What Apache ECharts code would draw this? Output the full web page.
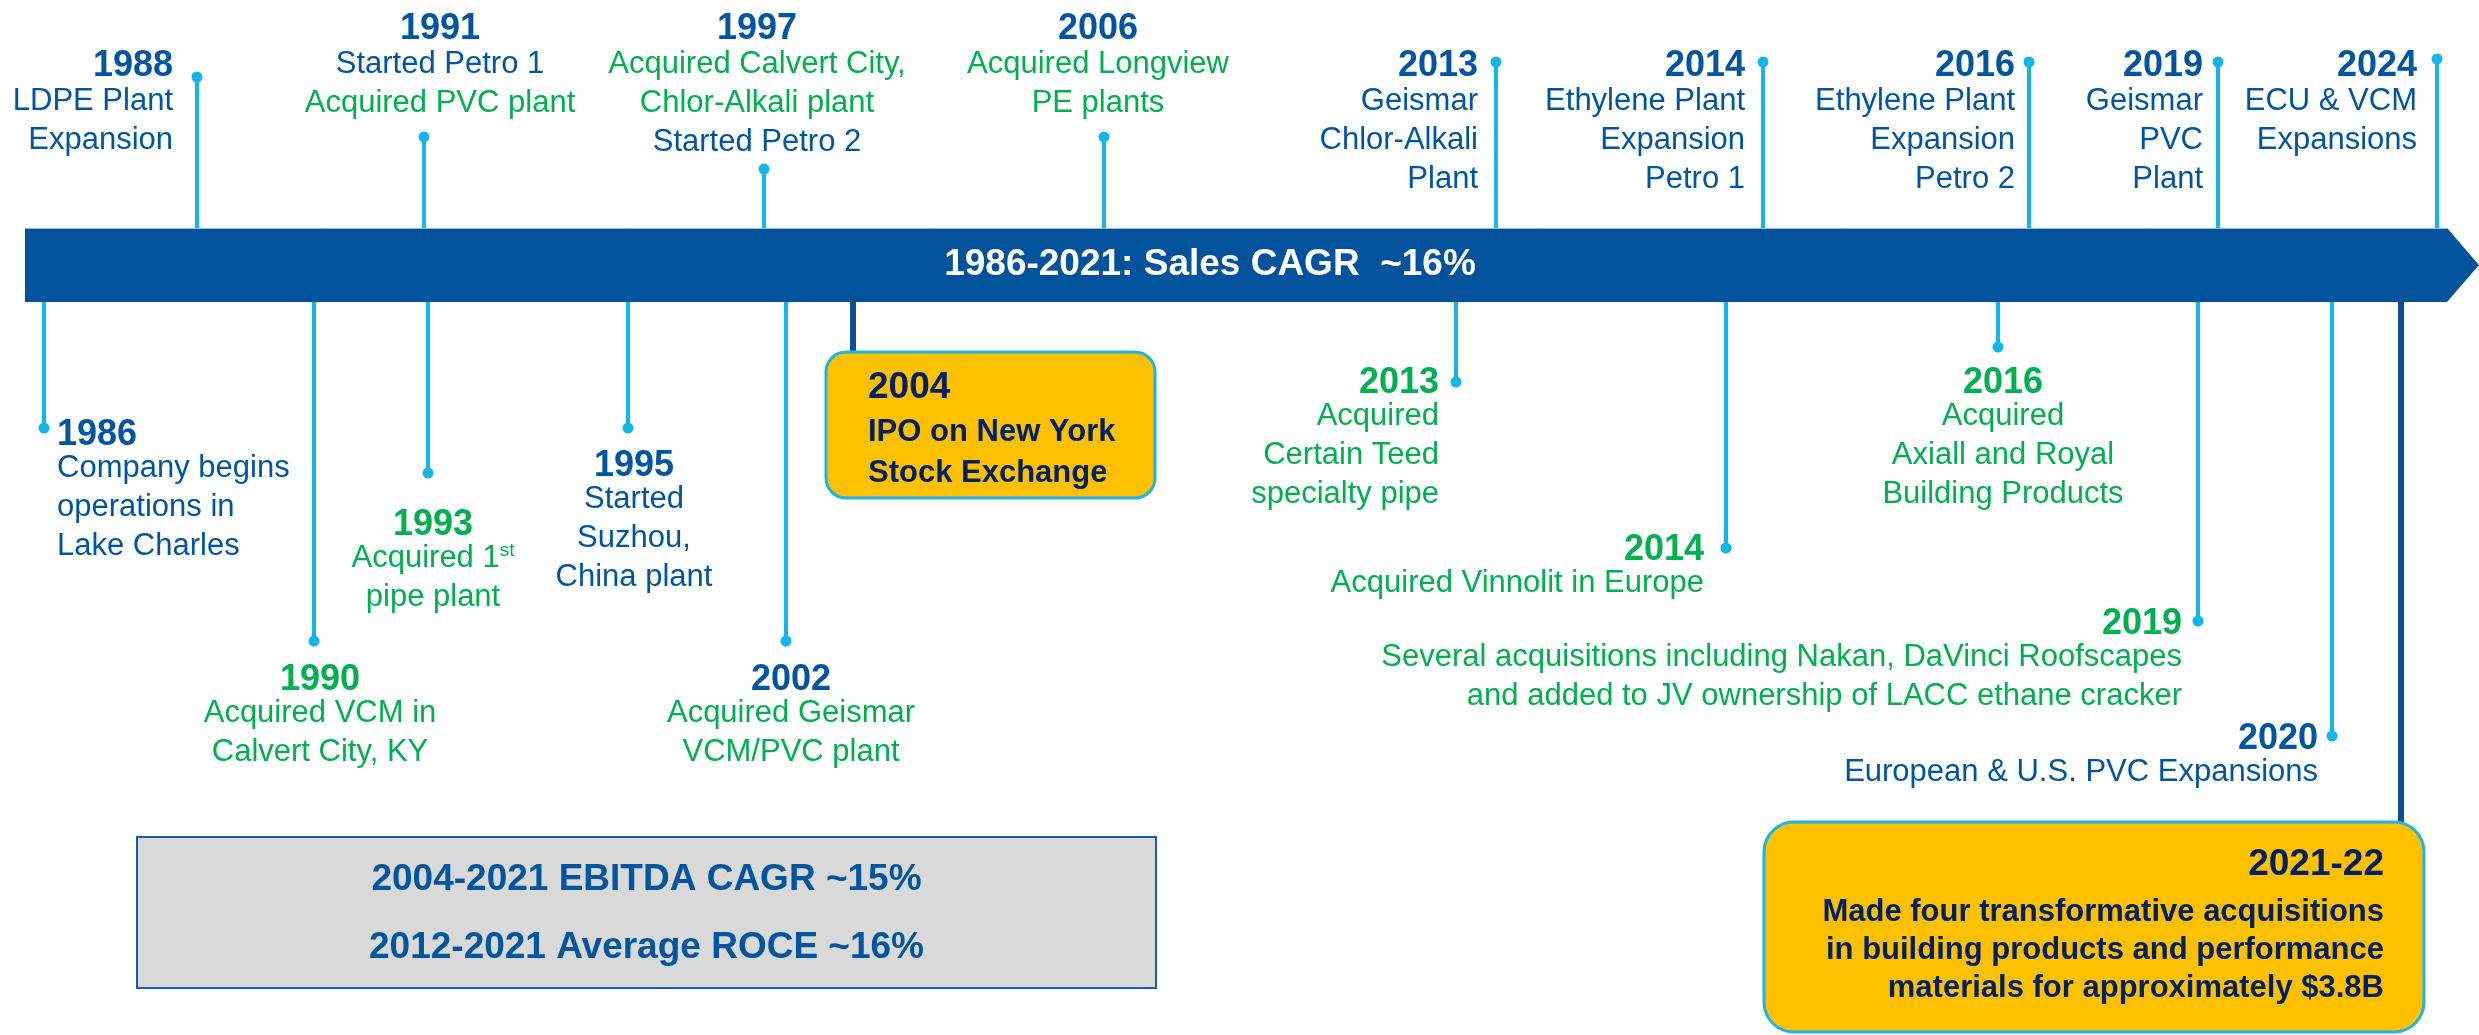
<!DOCTYPE html>
<html>
<head>
<meta charset="utf-8">
<title>Timeline</title>
<script src="https://cdn.jsdelivr.net/npm/echarts@6/dist/echarts.min.js"></script>
<style>
    html, body { margin: 0; padding: 0; background: #fff; }
    #chart { width: 2479px; height: 1035px; }
</style>
</head>
<body>
<div id="chart"></div>
<script>
// ---------- data ----------
const bannerText = '1986-2021: Sales CAGR  ~16%';

// events above the bar
const topYears = ['1988', '1991', '1997', '2006', '2013', '2014', '2016', '2019', '2024'];
const topLines = [
    ['LDPE Plant', 'Expansion'],
    ['Started Petro 1', 'Acquired PVC plant'],
    ['Acquired Calvert City,', 'Chlor-Alkali plant', 'Started Petro 2'],
    ['Acquired Longview', 'PE plants'],
    ['Geismar', 'Chlor-Alkali', 'Plant'],
    ['Ethylene Plant', 'Expansion', 'Petro 1'],
    ['Ethylene Plant', 'Expansion', 'Petro 2'],
    ['Geismar', 'PVC', 'Plant'],
    ['ECU & VCM', 'Expansions']
];
// o = organic growth (blue), a = acquisition (green); first letter is the year
const topKinds = ['ooo', 'ooa', 'oaao', 'oaa', 'oooo', 'oooo', 'oooo', 'oooo', 'ooo'];

// events below the bar
const bottomYears = ['1986', '1990', '1993', '1995', '2002', '2013', '2014', '2016', '2019', '2020'];
const bottomLines = [
    ['Company begins', 'operations in', 'Lake Charles'],
    ['Acquired VCM in', 'Calvert City, KY'],
    ['Acquired 1^st', 'pipe plant'],
    ['Started', 'Suzhou,', 'China plant'],
    ['Acquired Geismar', 'VCM/PVC plant'],
    ['Acquired', 'Certain Teed', 'specialty pipe'],
    ['Acquired Vinnolit in Europe'],
    ['Acquired', 'Axiall and Royal', 'Building Products'],
    ['Several acquisitions including Nakan, DaVinci Roofscapes', 'and added to JV ownership of LACC ethane cracker'],
    ['European & U.S. PVC Expansions']
];
const bottomKinds = ['oooo', 'aaa', 'aaa', 'oooo', 'oaa', 'aaaa', 'aa', 'aaaa', 'aaa', 'oo'];

// highlighted milestones
const boxYears = ['2004', '2021-22'];
const boxLines = [
    ['IPO on New York', 'Stock Exchange'],
    ['Made four transformative acquisitions', 'in building products and performance', 'materials for approximately $3.8B']
];

const statLines = ['2004-2021 EBITDA CAGR ~15%', '2012-2021 Average ROCE ~16%'];

// ---------- layout (axis units = px) ----------
const W = 2479, H = 1035;
const barTop = 228, barBottom = 302, barLeft = 25, barEnd = 2447, barTip = 2479;
// [stemX, dotY, textX, firstLineY, align]
const topLayout = [
    [197, 77, 173, 63, 'right'],
    [424, 137, 440, 26, 'center'],
    [764, 169, 757, 26, 'center'],
    [1104, 137, 1098, 26, 'center'],
    [1496, 62, 1478, 63, 'right'],
    [1763, 62, 1745, 63, 'right'],
    [2029, 62, 2015, 63, 'right'],
    [2218, 62, 2203, 63, 'right'],
    [2437, 59, 2417, 63, 'right']
];
const bottomLayout = [
    [44, 428, 57, 432, 'left'],
    [314, 641, 320, 677, 'center'],
    [428, 473, 433, 522, 'center'],
    [628, 428, 634, 463, 'center'],
    [786, 641, 791, 677, 'center'],
    [1456, 382, 1439, 380, 'right'],
    [1726, 548, 1704, 547, 'right'],
    [1998, 347, 2003, 380, 'center'],
    [2198, 621, 2182, 621, 'right'],
    [2332, 736, 2318, 736, 'right']
];
// [stemX, x0, y0, x1, y1, textX, yearY, align, radius, yearGap, lineGap]
const boxLayout = [
    [853, 826, 352, 1155, 498, 868, 388, 'left', 20, 44, 41],
    [2401, 1764, 822, 2424, 1032, 2384, 865, 'right', 30, 47, 38]
];
const statBox = [137, 837, 1156, 988];

const FONT = '"Liberation Sans", Arial, sans-serif';
const BLUE = '#0055A0';
const GREEN = '#00B050';
const LIGHT = '#14B6E6';
const BAR = '#00539B';
const NAVY = '#002060';

function textEl(x, y, str, color, size, bold, align) {
    const style = {
        x: 0, y: 0,
        fill: color,
        fontSize: size,
        fontWeight: bold ? 'bold' : 'normal',
        fontFamily: FONT,
        align: align, textAlign: align,
        verticalAlign: 'middle', textVerticalAlign: 'middle'
    };
    if (str.indexOf('^') >= 0) {
        // superscript part after ^
        const p = str.split('^');
        style.text = '{n|' + p[0] + '}{s|' + p[1] + '}';
        style.rich = {
            n: { fill: color, color: color, fontSize: size, fontFamily: FONT, verticalAlign: 'middle' },
            s: { fill: color, color: color, fontSize: Math.round(size * 0.62), fontFamily: FONT, verticalAlign: 'top', padding: [0, 0, 14, 0] }
        };
    } else {
        style.text = str;
    }
    return { type: 'text', x: x, y: y, style: style };
}

function eventRender(layout, years, lines, kinds, edgeY, yearGap, lineGap) {
    return function (params, api) {
        const i = params.dataIndex;
        const L = layout[i];
        const dot = api.coord([L[0], L[1]]);
        const edge = api.coord([L[0], edgeY]);
        const t = api.coord([L[2], L[3]]);
        const k = kinds[i];
        const children = [
            { type: 'line', shape: { x1: dot[0], y1: edge[1], x2: dot[0], y2: dot[1] }, style: { stroke: LIGHT, lineWidth: 4 } },
            { type: 'circle', shape: { cx: dot[0], cy: dot[1], r: 5.5 }, style: { fill: LIGHT } },
            textEl(t[0], t[1] + 3, years[i], k[0] === 'a' ? GREEN : BLUE, 36, true, L[4])
        ];
        lines[i].forEach(function (s, j) {
            children.push(textEl(t[0], t[1] + yearGap + j * lineGap, s, k[j + 1] === 'a' ? GREEN : BLUE, 31, false, L[4]));
        });
        return { type: 'group', children: children };
    };
}

let myChart = echarts.init(document.getElementById('chart'));

var option = {
    animation: false,
    backgroundColor: '#fff',
    grid: { left: 0, right: 0, top: 0, bottom: 0 },
    xAxis: { type: 'value', min: 0, max: W, show: false },
    yAxis: { type: 'value', min: 0, max: H, inverse: true, show: false },
    series: [
        {
            // the arrow bar
            type: 'custom', silent: true,
            data: [[barLeft, barTop]],
            renderItem: function (params, api) {
                const a = api.coord([barLeft, barTop]);
                const b = api.coord([barEnd, barBottom]);
                const tip = api.coord([barTip, (barTop + barBottom) / 2]);
                return {
                    type: 'group',
                    children: [
                        { type: 'polygon', shape: { points: [[a[0], a[1]], [b[0], a[1]], [tip[0], tip[1]], [b[0], b[1]], [a[0], b[1]]] }, style: { fill: BAR } },
                        { type: 'line', shape: { x1: a[0], y1: a[1] + 0.5, x2: b[0], y2: a[1] + 0.5 }, style: { stroke: '#9DB6D3', lineWidth: 1 } },
                        textEl((a[0] + b[0]) / 2 - 26, tip[1], bannerText, '#fff', 37, true, 'center')
                    ]
                };
            }
        },
        {
            type: 'custom', silent: true,
            data: topLayout.map(function (L, i) { return [L[0], L[1], i]; }),
            encode: { x: 0, y: 1 },
            renderItem: eventRender(topLayout, topYears, topLines, topKinds, barTop, 38, 39)
        },
        {
            type: 'custom', silent: true,
            data: bottomLayout.map(function (L, i) { return [L[0], L[1], i]; }),
            encode: { x: 0, y: 1 },
            renderItem: eventRender(bottomLayout, bottomYears, bottomLines, bottomKinds, barBottom, 36, 39)
        },
        {
            // highlighted milestones in yellow boxes
            type: 'custom', silent: true,
            data: boxLayout.map(function (L, i) { return [L[0], L[2], i]; }),
            encode: { x: 0, y: 1 },
            renderItem: function (params, api) {
                const i = params.dataIndex;
                const L = boxLayout[i];
                const p0 = api.coord([L[1], L[2]]);
                const p1 = api.coord([L[3], L[4]]);
                const s0 = api.coord([L[0], barBottom]);
                const t = api.coord([L[5], L[6]]);
                const children = [
                    { type: 'line', shape: { x1: s0[0], y1: s0[1], x2: s0[0], y2: p0[1] }, style: { stroke: '#0B4E96', lineWidth: 6 } },
                    { type: 'rect', shape: { x: p0[0], y: p0[1], width: p1[0] - p0[0], height: p1[1] - p0[1], r: L[8] }, style: { fill: '#FFC000', stroke: '#1FB4E8', lineWidth: 3 } },
                    textEl(t[0], t[1], boxYears[i], NAVY, 37, true, L[7])
                ];
                boxLines[i].forEach(function (s, j) {
                    children.push(textEl(t[0], t[1] + L[9] + j * L[10], s, NAVY, 31, true, L[7]));
                });
                return { type: 'group', children: children };
            }
        },
        {
            // summary box
            type: 'custom', silent: true,
            data: [[statBox[0], statBox[1]]],
            renderItem: function (params, api) {
                const p0 = api.coord([statBox[0], statBox[1]]);
                const p1 = api.coord([statBox[2], statBox[3]]);
                const cx = (p0[0] + p1[0]) / 2;
                return {
                    type: 'group',
                    children: [
                        { type: 'rect', shape: { x: p0[0], y: p0[1], width: p1[0] - p0[0], height: p1[1] - p0[1] }, style: { fill: '#D9D9D9', stroke: '#1B5FAA', lineWidth: 2 } },
                        textEl(cx, p0[1] + 43, statLines[0], BLUE, 37, true, 'center'),
                        textEl(cx, p0[1] + 111, statLines[1], BLUE, 37, true, 'center')
                    ]
                };
            }
        }
    ]
};
myChart.setOption(option);
window.onresize = myChart.resize;
</script>
</body>
</html>
